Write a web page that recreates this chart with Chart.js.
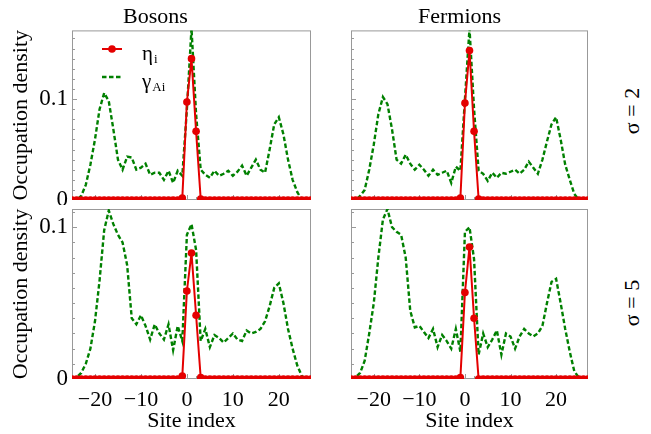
<!DOCTYPE html>
<html>
<head>
<meta charset="utf-8">
<script src="https://cdn.jsdelivr.net/npm/chart.js@4.4.0/dist/chart.umd.min.js"></script>
<style>
  body { margin: 0; background: #fff; }
  #wrap { position: relative; width: 651px; height: 434px; overflow: hidden; font-family: 'Liberation Serif', serif; }
  #wrap canvas { position: absolute; }
  .sigma { position: absolute; font-size: 22px; white-space: nowrap; transform: translate(-50%, -50%) rotate(-90deg); }
</style>
</head>
<body>
<div id="wrap">
  <canvas id="bosons2" width="315" height="205" style="left:0;top:0"></canvas>
  <canvas id="fermions2" width="262" height="205" style="left:330px;top:0"></canvas>
  <canvas id="bosons5" width="315" height="229" style="left:0;top:205px"></canvas>
  <canvas id="fermions5" width="262" height="229" style="left:330px;top:205px"></canvas>
  <div class="sigma" style="left:632px;top:111px">σ = 2</div>
  <div class="sigma" style="left:632px;top:303px">σ = 5</div>
</div>
<script>
// site index along the chain
const sites = [-25, -24, -23, -22, -21, -20, -19, -18, -17, -16, -15, -14, -13, -12, -11, -10, -9, -8, -7, -6, -5, -4, -3, -2, -1,
  0, 1, 2, 3, 4, 5, 6, 7, 8, 9, 10, 11, 12, 13, 14, 15, 16, 17, 18, 19, 20, 21, 22, 23, 24, 25, 26, 27];

// eta_i (red, markers)
const bosonsEta2 = [0, 0, 0, 0, 0, 0, 0, 0, 0, 0, 0, 0, 0, 0, 0, 0, 0, 0, 0, 0, 0, 0, 0, 0, 0.002,
  0.097, 0.14, 0.068, 0.001, 0, 0, 0, 0, 0, 0, 0, 0, 0, 0, 0, 0, 0, 0, 0, 0, 0, 0, 0, 0, 0, 0, 0, 0];
const fermionsEta2 = [0, 0, 0, 0, 0, 0, 0, 0, 0, 0, 0, 0, 0, 0, 0, 0, 0, 0, 0, 0, 0, 0, 0, 0, 0.002,
  0.096, 0.148, 0.068, 0.001, 0, 0, 0, 0, 0, 0, 0, 0, 0, 0, 0, 0, 0, 0, 0, 0, 0, 0, 0, 0, 0, 0, 0, 0];
const bosonsEta5 = [0, 0, 0, 0, 0, 0, 0, 0, 0, 0, 0, 0, 0, 0, 0, 0, 0, 0, 0, 0, 0, 0, 0, 0, 0.002,
  0.058, 0.083, 0.042, 0.001, 0, 0, 0, 0, 0, 0, 0, 0, 0, 0, 0, 0, 0, 0, 0, 0, 0, 0, 0, 0, 0, 0, 0, 0];
const fermionsEta5 = [0, 0, 0, 0, 0, 0, 0, 0, 0, 0, 0, 0, 0, 0, 0, 0, 0, 0, 0, 0, 0, 0, 0, 0, 0.001,
  0.057, 0.087, 0.04, 0, 0, 0, 0, 0, 0, 0, 0, 0, 0, 0, 0, 0, 0, 0, 0, 0, 0, 0, 0, 0, 0, 0, 0, 0];

// gamma_Ai (green, dashed)
const bosonsGamma2 = [0, 0, 0.004, 0.015, 0.035, 0.06, 0.09, 0.106, 0.098, 0.07, 0.04, 0.03, 0.043, 0.042, 0.03, 0.032, 0.036, 0.025, 0.027, 0.027, 0.02, 0.029, 0.017, 0.029, 0.024,
  0.09, 0.17, 0.085, 0.03, 0.025, 0.022, 0.029, 0.024, 0.026, 0.029, 0.024, 0.028, 0.034, 0.024, 0.032, 0.04, 0.03, 0.027, 0.05, 0.075, 0.082, 0.065, 0.04, 0.02, 0.008, 0, 0, 0];
const fermionsGamma2 = [0, 0, 0.004, 0.01, 0.03, 0.055, 0.085, 0.102, 0.095, 0.07, 0.04, 0.036, 0.045, 0.036, 0.03, 0.035, 0.03, 0.024, 0.03, 0.025, 0.027, 0.029, 0.017, 0.033, 0.029,
  0.1, 0.17, 0.09, 0.029, 0.026, 0.019, 0.027, 0.022, 0.027, 0.026, 0.028, 0.03, 0.026, 0.03, 0.038, 0.032, 0.026, 0.04, 0.058, 0.075, 0.082, 0.06, 0.035, 0.02, 0.006, 0, 0, 0];
const bosonsGamma5 = [0, 0.001, 0.004, 0.01, 0.02, 0.038, 0.065, 0.098, 0.111, 0.102, 0.095, 0.09, 0.075, 0.04, 0.036, 0.042, 0.035, 0.026, 0.036, 0.03, 0.026, 0.036, 0.019, 0.035, 0.025,
  0.095, 0.102, 0.085, 0.025, 0.033, 0.021, 0.029, 0.027, 0.024, 0.027, 0.03, 0.026, 0.025, 0.032, 0.03, 0.031, 0.033, 0.038, 0.048, 0.06, 0.063, 0.05, 0.033, 0.02, 0.009, 0.002, 0, 0];
const fermionsGamma5 = [0, 0.001, 0.004, 0.012, 0.03, 0.05, 0.08, 0.105, 0.112, 0.1, 0.097, 0.095, 0.08, 0.045, 0.034, 0.035, 0.031, 0.027, 0.033, 0.021, 0.029, 0.025, 0.02, 0.033, 0.018,
  0.097, 0.1, 0.079, 0.016, 0.03, 0.021, 0.026, 0.032, 0.016, 0.03, 0.028, 0.02, 0.028, 0.033, 0.03, 0.028, 0.03, 0.035, 0.05, 0.064, 0.066, 0.05, 0.033, 0.018, 0.005, 0.001, 0, 0];

const xTickValues = [-20, -10, 0, 10, 20];
const yTickValues = [0, 0.1];
const seriesLabels = ['η_i', 'γ_Ai'];

Chart.defaults.font.family = "'Liberation Serif', 'Times New Roman', serif";
Chart.defaults.color = '#000';

const red = 'rgb(228,0,0)';
const green = 'rgb(0,128,0)';
const frameGray = '#999';

// frame + inward ticks (left and bottom), drawn under the data
const frameTicks = {
  id: 'frameTicks',
  beforeDatasetsDraw(chart) {
    const {ctx, chartArea: a, scales: {x, y}} = chart;
    ctx.save();
    ctx.strokeStyle = frameGray;
    ctx.lineWidth = 1;
    ctx.beginPath();
    for (let v = -24; v <= 26; v += 2) {
      const px = Math.round(x.getPixelForValue(v)) + 0.5;
      const len = v % 10 === 0 ? 5 : 3;
      ctx.moveTo(px, a.bottom);
      ctx.lineTo(px, a.bottom - len);
    }
    for (let k = 1; k * 0.01 < y.max; k++) {
      const py = Math.round(y.getPixelForValue(k * 0.01)) + 0.5;
      const len = k % 10 === 0 ? 5 : 3;
      ctx.moveTo(a.left, py);
      ctx.lineTo(a.left + len, py);
    }
    ctx.stroke();
    ctx.strokeRect(a.left + 0.5, a.top + 0.5, a.width - 1, a.height - 1);
    ctx.restore();
  }
};

// legend with subscripts (only in the first panel)
const subLegend = {
  id: 'subLegend',
  afterDraw(chart, args, opts) {
    if (!opts.show) return;
    const ctx = chart.ctx;
    const ds = chart.data.datasets;
    ctx.save();
    ds.forEach((d, i) => {
      const yy = 49 + i * 28;
      ctx.strokeStyle = d.borderColor;
      ctx.lineWidth = d.borderWidth;
      ctx.setLineDash(d.borderDash || []);
      ctx.beginPath();
      ctx.moveTo(102, yy);
      ctx.lineTo(122, yy);
      ctx.stroke();
      if (d.pointRadius) {
        ctx.fillStyle = d.borderColor;
        ctx.beginPath();
        ctx.arc(112, yy, 3.8, 0, 2 * Math.PI);
        ctx.fill();
      }
      const [main, sub] = d.label.split('_');
      ctx.fillStyle = '#000';
      ctx.textBaseline = 'alphabetic';
      ctx.font = "21px 'Liberation Serif', serif";
      ctx.fillText(main, 142, yy + 11);
      const w = ctx.measureText(main).width;
      ctx.font = "13px 'Liberation Serif', serif";
      ctx.fillText(sub, 142 + w + 1, yy + 14);
    });
    ctx.restore();
  }
};

function panel(id, eta, gamma, o) {
  new Chart(document.getElementById(id), {
    type: 'line',
    data: {
      datasets: [
        {
          label: seriesLabels[0],
          data: sites.map((s, i) => ({x: s, y: eta[i]})),
          borderColor: red, backgroundColor: red,
          borderWidth: 2, pointRadius: 3.8, pointBackgroundColor: red, pointBorderColor: red, pointBorderWidth: 0,
          clip: 0
        },
        {
          label: seriesLabels[1],
          data: sites.map((s, i) => ({x: s, y: gamma[i]})),
          borderColor: green, borderWidth: 2.4, borderDash: [4.5, 2.5], pointRadius: 0,
          clip: 0
        }
      ]
    },
    options: {
      responsive: false,
      animation: false,
      layout: {padding: {top: o.top ? 0 : 2, right: o.left ? 4 : 3, left: 0, bottom: 0}},
      elements: {line: {tension: 0}},
      scales: {
        x: {
          type: 'linear', min: -25, max: 27,
          afterBuildTicks: s => { s.ticks = xTickValues.map(v => ({value: v})); },
          afterFit: s => { s.height = o.top ? 5 : 55; s.paddingLeft = 0; s.paddingRight = 0; },
          grid: {display: false, drawTicks: false},
          border: {display: false},
          ticks: {display: !o.top, padding: 8, maxRotation: 0, font: {size: 22},
            callback: v => String(v).replace('-', '\u2212')},
          title: {display: !o.top, text: 'Site index', font: {size: 22}, padding: {top: 0, bottom: 0}}
        },
        y: {
          min: 0, max: o.ymax,
          afterBuildTicks: s => { s.ticks = yTickValues.map(v => ({value: v})); },
          afterFit: s => { s.width = o.left ? 72 : 21; s.paddingTop = 0; s.paddingBottom = 0; },
          grid: {display: false, drawTicks: false},
          border: {display: false},
          ticks: {display: o.left, padding: 4, font: {size: 23}, callback: v => String(v)},
          title: {display: o.left, text: 'Occupation density', font: {size: 22}, padding: {top: 8, bottom: 0}}
        }
      },
      plugins: {
        legend: {display: false},
        tooltip: {enabled: false},
        title: {display: !!o.title, text: o.title, font: {size: 22, weight: 'normal'}, color: '#000', padding: {top: 4, bottom: 0}},
        subLegend: {show: !!o.legend}
      }
    },
    plugins: [frameTicks, subLegend]
  });
}

panel('bosons2', bosonsEta2, bosonsGamma2, {top: true, left: true, ymax: 0.168, title: 'Bosons', legend: true});
panel('fermions2', fermionsEta2, fermionsGamma2, {top: true, left: false, ymax: 0.168, title: 'Fermions'});
panel('bosons5', bosonsEta5, bosonsGamma5, {top: false, left: true, ymax: 0.112});
panel('fermions5', fermionsEta5, fermionsGamma5, {top: false, left: false, ymax: 0.112});
</script>
</body>
</html>
